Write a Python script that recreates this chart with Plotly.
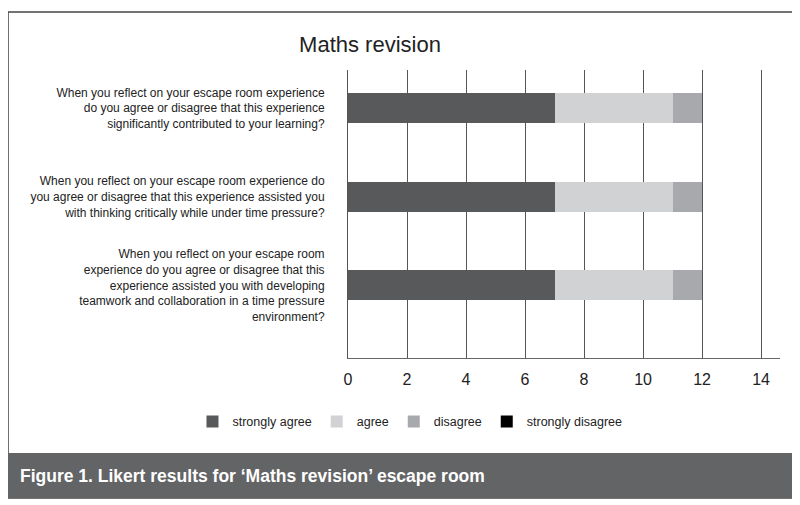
import plotly.graph_objects as go

# Likert responses, one row per question
questions = [
    "When you reflect on your escape room experience<br>do you agree or disagree that this experience<br>significantly contributed to your learning?",
    "When you reflect on your escape room experience do<br>you agree or disagree that this experience assisted you<br>with thinking critically while under time pressure?",
    "When you reflect on your escape room<br>experience do you agree or disagree that this<br>experience assisted you with developing<br>teamwork and collaboration in a time pressure<br>environment?",
]
responses = ["strongly agree", "agree", "disagree", "strongly disagree"]
strongly_agree = [7, 7, 7]
agree = [4, 4, 4]
disagree = [1, 1, 1]
strongly_disagree = [0, 0, 0]
x_ticks = [0, 2, 4, 6, 8, 10, 12, 14]

series = [strongly_agree, agree, disagree, strongly_disagree]
colors = ["#58595b", "#d1d2d4", "#a7a9ac", "#000000"]

FONT = "Liberation Sans, Arial, sans-serif"

fig = go.Figure()
for name, vals, col in zip(responses, series, colors):
    fig.add_trace(go.Bar(
        y=questions, x=vals, name=name, orientation="h",
        marker=dict(color=col, line=dict(width=0)),
        width=0.34,
    ))

fig.update_layout(
    width=800, height=505,
    barmode="stack",
    paper_bgcolor="white", plot_bgcolor="white",
    margin=dict(l=340, r=28, t=62, b=155, autoexpand=False),
    font=dict(family=FONT, color="#222"),
    title=dict(text="Maths revision", font=dict(size=22, color="#222"),
               x=0.4525, xref="container", xanchor="center",
               y=0.928, yref="container", yanchor="middle"),
    legend=dict(orientation="h", x=-0.36, xanchor="left", y=-0.222, yanchor="middle",
                font=dict(size=12.5, color="#222"), traceorder="normal"),
    showlegend=True,
)
fig.update_xaxes(
    range=[0, 14.64], tickvals=x_ticks, showgrid=True, gridcolor="#555", gridwidth=1,
    showline=True, linecolor="#666", linewidth=1, zeroline=False,
    tickfont=dict(size=16, color="#222"), ticks="", ticklabelstandoff=7,
)
fig.update_yaxes(
    range=[2.82, -0.43], showgrid=False, showline=True, linecolor="#555", linewidth=1,
    tickfont=dict(size=12, color="#222"), ticks="", ticklabelstandoff=20, automargin=False,
)

# outer frame and caption bar
fig.add_shape(type="rect", xref="paper", yref="paper", x0=-0.787, x1=1.030, y0=-0.486, y1=1.201,
              line=dict(color="#444", width=1.5), fillcolor="rgba(0,0,0,0)", layer="below")
fig.add_shape(type="rect", xref="paper", yref="paper", x0=-0.787, x1=1.030, y0=-0.486, y1=-0.330,
              line=dict(width=0), fillcolor="#636466")
fig.add_annotation(text="<b>Figure 1. Likert results for ‘Maths revision’ escape room</b>",
                   xref="paper", yref="paper", x=-0.764, y=-0.408, xanchor="left", yanchor="middle",
                   showarrow=False, font=dict(size=17.5, color="white", family=FONT))

fig.write_html("out.html")
